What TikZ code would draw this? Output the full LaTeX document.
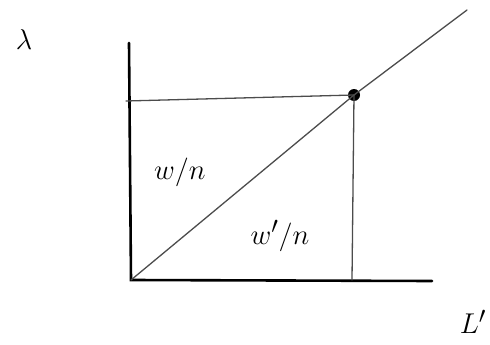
\documentclass[tikz,border=0pt]{standalone}
\begin{document}
\begin{tikzpicture}[x=1pt,y=-1pt,
  axis/.style={line width=2.6pt,black,line cap=round},
  thin/.style={line width=1.3pt,black!70,line cap=round},
  lab/.style={font=\Huge,scale=1.15,inner sep=0pt}]
\useasboundingbox (0,0) rectangle (490,345);
\coordinate (O) at (131,280);
\coordinate (Ytop) at (129,43);
\coordinate (Xend) at (432,281);
\coordinate (Dend) at (467,10);
\coordinate (Lstart) at (126,101);
\coordinate (Vbot) at (352,280);
\node[circle,fill=black,minimum size=12pt,inner sep=0pt] (P) at (354,95) {};
\draw[axis] (Ytop) -- (O) -- (Xend);
\draw[thin] (O) -- (P.center) -- (Dend);
\draw[thin] (Lstart) -- (P.center);
\draw[thin] (P.center) -- (Vbot);
\node[lab] (lam) at (24,40) {$\lambda$};
\node[lab] (wn) at (180,172) {$w/n$};
\node[lab] (wpn) at (280,236) {$w'/n$};
\node[lab] (L) at (473,322) {$L'$};
\end{tikzpicture}
\end{document}
